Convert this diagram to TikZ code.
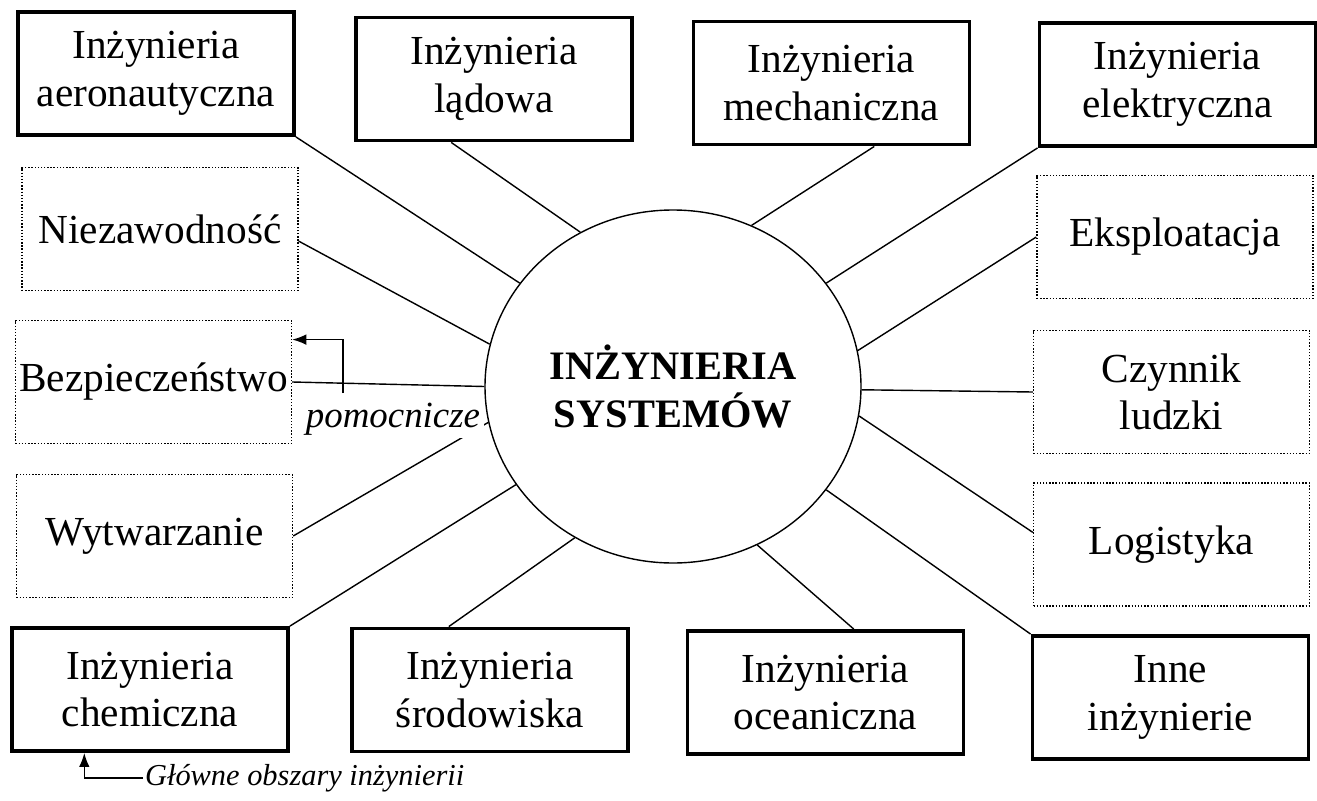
\documentclass[tikz,border=0pt]{standalone}
\usepackage{fontspec}
\setmainfont{Liberation Serif}
\usetikzlibrary{arrows.meta,shapes.geometric}
\newcommand{\boxfont}{\fontsize{23.5}{27}\selectfont}
\newcommand{\sysfont}{\fontsize{23}{27.3}\selectfont\bfseries}
\newcommand{\notefont}{\fontsize{21}{23}\selectfont\itshape}
\newcommand{\legendfont}{\fontsize{17.3}{20}\selectfont\itshape}
\tikzset{
  mainbox/.style={draw, line width=2.2pt, minimum width=5.52cm,
    minimum height=2.46cm, align=center, font=\boxfont, inner sep=1pt},
  auxbox/.style={mainbox, line width=0.8pt, densely dotted},
  link/.style={line width=0.8pt},
  pointer/.style={link, -{Latex[length=8pt,width=6pt]}},
}

\begin{document}
\begin{tikzpicture}
  \useasboundingbox (0,0) rectangle (26.34,-16.02);

  % Main areas of engineering
  \node[mainbox] (aero)   at (3.12,-1.47)   {Inżynieria\\aeronautyczna};
  \node[mainbox] (ladowa) at (9.88,-1.58)   {Inżynieria\\lądowa};
  \node[mainbox] (mech)   at (16.63,-1.66)  {Inżynieria\\mechaniczna};
  \node[mainbox] (elek)   at (23.55,-1.69)  {Inżynieria\\elektryczna};
  \node[mainbox] (chem)   at (3.00,-13.79)  {Inżynieria\\chemiczna};
  \node[mainbox] (srod)   at (9.80,-13.80)  {Inżynieria\\środowiska};
  \node[mainbox] (ocean)  at (16.51,-13.85) {Inżynieria\\oceaniczna};
  \node[mainbox] (inne)   at (23.41,-13.95) {Inne\\inżynierie};

  % Auxiliary areas
  \node[auxbox] (niez) at (3.20,-4.58)   {Niezawodność};
  \node[auxbox] (bezp) at (3.07,-7.64)   {Bezpieczeństwo};
  \node[auxbox] (wytw) at (3.09,-10.72)  {Wytwarzanie};
  \node[auxbox] (eksp) at (23.50,-4.74)  {Eksploatacja};
  \node[auxbox] (czyn) at (23.43,-7.84)  {Czynnik\\ludzki};
  \node[auxbox] (logi) at (23.43,-10.89) {Logistyka};

  % Centre
  \node[draw, ellipse, line width=0.8pt, minimum width=7.52cm,
    minimum height=7.06cm, align=center, font=\sysfont] (sys)
    at (13.46,-7.73) {INŻYNIERIA\\SYSTEMÓW};

  % Spokes
  \draw[link] (aero.south east) -- (sys.146);
  \draw[link] (ladowa.236) -- (sys.121);
  \draw[link] (mech.304) -- (sys.64);
  \draw[link] (elek.south west) -- (sys.34);
  \draw[link] (eksp.west) -- (sys.11);
  \draw[link] (czyn.west) -- (sys.359);
  \draw[link] (logi.175) -- (sys.-9);
  \draw[link] (inne.north west) -- (sys.-34);
  \draw[link] (ocean.66) -- (sys.-62);
  \draw[link] (srod.123) -- (sys.237);
  \draw[link] (chem.north east) -- (sys.212);
  \draw[link] (wytw.east) -- (sys.191);
  \draw[link] (niez.355) -- (sys.167);
  \draw[link] (bezp.east) -- (sys.180);

  % Legend notes
  \node[font=\notefont, fill=white, inner sep=2pt, anchor=base west] (pom)
    at (6.04,-8.54) {pomocnicze};
  \coordinate (pomtop) at (6.86,-7.86);
  \draw[pointer] (pomtop) |- (bezp.17);

  \node[font=\legendfont, anchor=west, inner sep=1pt] (glowne)
    at (2.86,-15.56) {Główne obszary inżynierii};
  \draw[pointer] (glowne.west) -| (chem.224);
\end{tikzpicture}
\end{document}
